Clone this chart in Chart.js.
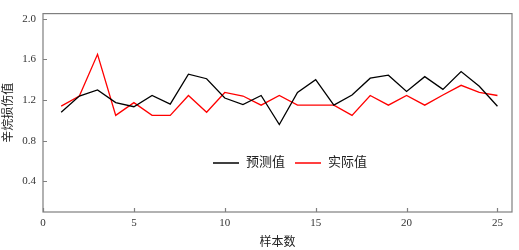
<!DOCTYPE html>
<html>
<head>
<meta charset="utf-8">
<script src="https://cdn.jsdelivr.net/npm/chart.js@4/dist/chart.umd.min.js"></script>
<style>
  html, body { margin: 0; padding: 0; background: #fff; }
  #wrap { width: 519px; height: 250px; }
</style>
</head>
<body>
<div id="wrap"><canvas id="chart"></canvas></div>
<script>
// sample numbers 1..25
const samples = [1,2,3,4,5,6,7,8,9,10,11,12,13,14,15,16,17,18,19,20,21,22,23,24,25]
const predicted = [1.08,1.24,1.30,1.175,1.135,1.245,1.16,1.455,1.41,1.22,1.155,1.245,0.96,1.275,1.40,1.15,1.25,1.415,1.445,1.285,1.43,1.305,1.48,1.335,1.14]
const actual = [1.14,1.24,1.65,1.05,1.175,1.05,1.05,1.245,1.08,1.275,1.24,1.15,1.245,1.15,1.15,1.15,1.05,1.245,1.15,1.245,1.15,1.25,1.345,1.275,1.245]
const xTicks = [0,5,10,15,20,25]
const yTicks = [0.4,0.8,1.2,1.6,2.0]

const serif = "'Liberation Serif', 'Noto Sans CJK SC', serif"
const axisColor = "#7f7f7f"

function toPoints(values){
  return samples.map((s, i) => ({x: s, y: values[i]}))
}

// box border + inward ticks
const frame = {
  id: "frame",
  afterDraw(chart){
    const ctx = chart.ctx
    const a = chart.chartArea
    const xs = chart.scales.x, ys = chart.scales.y
    ctx.save()
    ctx.strokeStyle = axisColor
    ctx.lineWidth = 1.2
    ctx.strokeRect(a.left, a.top, a.right - a.left, a.bottom - a.top)
    ctx.beginPath()
    xTicks.forEach(v => {
      const px = Math.round(xs.getPixelForValue(v)) + 0.5
      ctx.moveTo(px, a.bottom)
      ctx.lineTo(px, a.bottom - 4)
    })
    yTicks.forEach(v => {
      const py = Math.round(ys.getPixelForValue(v)) + 0.5
      ctx.moveTo(a.left, py)
      ctx.lineTo(a.left + 4, py)
    })
    ctx.stroke()
    ctx.restore()
  }
}

// legend drawn inside the plot
const innerLegend = {
  id: "innerLegend",
  afterDraw(chart){
    const ctx = chart.ctx
    const y = 163
    const items = [
      {x: 213, ds: chart.data.datasets[0]},
      {x: 295, ds: chart.data.datasets[1]}
    ]
    ctx.save()
    ctx.font = "13px " + serif
    ctx.textBaseline = "middle"
    items.forEach(it => {
      ctx.strokeStyle = it.ds.borderColor
      ctx.lineWidth = 1.5
      ctx.beginPath()
      ctx.moveTo(it.x, y)
      ctx.lineTo(it.x + 26, y)
      ctx.stroke()
      ctx.fillStyle = "#222"
      ctx.fillText(it.ds.label, it.x + 33, y)
    })
    ctx.restore()
  }
}

new Chart(document.getElementById("chart").getContext("2d"), {
  type: "line",
  data: {
    datasets: [
      {label: "预测值", data: toPoints(predicted), borderColor: "#000000", borderWidth: 1.3, pointRadius: 0, tension: 0},
      {label: "实际值", data: toPoints(actual), borderColor: "#ff0000", borderWidth: 1.3, pointRadius: 0, tension: 0}
    ]
  },
  options: {
    responsive: true,
    maintainAspectRatio: false,
    animation: false,
    layout: {padding: {top: 4, right: 7, left: 0, bottom: 0}},
    plugins: {legend: {display: false}, tooltip: {enabled: false}},
    scales: {
      x: {
        type: "linear",
        min: 0,
        max: 25.8,
        afterBuildTicks: s => { s.ticks = xTicks.map(v => ({value: v})) },
        afterFit: s => { s.height = 38 },
        grid: {display: false, drawTicks: false},
        border: {display: false},
        ticks: {color: "#333", font: {family: serif, size: 11}, padding: 5},
        title: {display: true, text: "样本数", color: "#222", font: {family: serif, size: 12}, padding: {top: 3, bottom: 0}}
      },
      y: {
        min: 0.1,
        max: 2.05,
        afterBuildTicks: s => { s.ticks = yTicks.map(v => ({value: v})) },
        afterFit: s => { s.width = 43 },
        grid: {display: false, drawTicks: false},
        border: {display: false},
        ticks: {color: "#333", font: {family: serif, size: 11}, padding: 7, callback: v => v.toFixed(1)},
        title: {display: true, text: "辛烷损伤值", color: "#222", font: {family: serif, size: 12}, padding: {top: 2, bottom: 0}}
      }
    }
  },
  plugins: [frame, innerLegend]
})
</script>
</body>
</html>
